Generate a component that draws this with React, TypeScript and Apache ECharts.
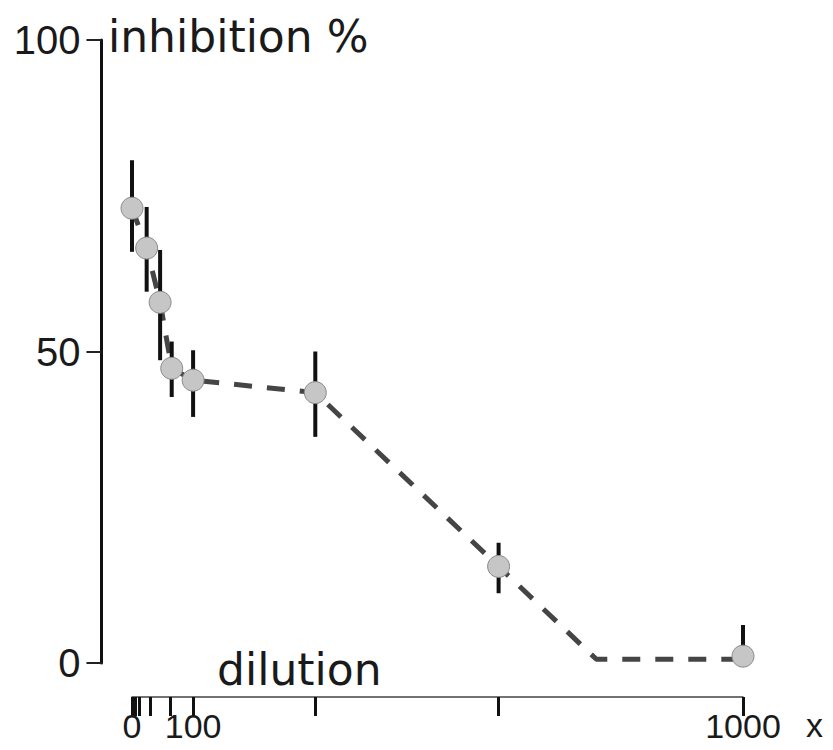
import React, { useEffect, useRef } from "react";
import * as echarts from "echarts";

// dilution values of the measured points
const doseX = [0, 24, 46, 65, 100, 300, 600, 1000];
// mean inhibition %
const meanY = [73.0, 66.6, 57.9, 47.3, 45.4, 43.4, 15.5, 1.1];
// error bar ends
const errLow = [66.0, 59.6, 48.6, 42.7, 39.5, 36.3, 11.2, 0];
const errHigh = [80.7, 73.2, 66.3, 51.6, 50.2, 50.0, 19.3, 6.1];
// dashed connecting line
const lineX = [0, 24, 46, 65, 100, 300, 600, 760, 1000];
const lineY = [73.0, 66.6, 57.9, 47.3, 45.4, 43.4, 15.5, 0.6, 0.6];
// axis ticks
const xTicks = [0, 5, 12, 30, 62, 100, 300, 600, 1000];
const xTickLabels = [0, 100, 1000];
const yTicks = [0, 50, 100];

const WORD_FONT = "'DejaVu Sans', sans-serif";
const NUM_FONT = "'Liberation Sans', Arial, sans-serif";

export default function App() {
  const ref = useRef<HTMLDivElement>(null);

  useEffect(() => {
    if (!ref.current) return;
    const chart = echarts.init(ref.current, null, { renderer: "svg" });

    const points = doseX.map((x, i) => [x, meanY[i]]);
    const bars = doseX.map((x, i) => [x, errLow[i], errHigh[i]]);
    const line = lineX.map((x, i) => [x, lineY[i]]);

    chart.setOption({
      animation: false,
      backgroundColor: "#ffffff",
      grid: [
        { left: 101.45, top: 40, width: 672.1, height: 623 },
        { left: 132, top: 696, width: 611, height: 1 },
      ],
      xAxis: [
        {
          type: "value",
          gridIndex: 0,
          min: -50,
          max: 1050,
          show: false,
        },
        {
          type: "value",
          gridIndex: 1,
          min: 0,
          max: 1000,
          splitLine: { show: false },
          axisLine: { show: true, onZero: false, lineStyle: { color: "#444", width: 1.5 } },
          axisTick: {
            show: true,
            customValues: xTicks,
            length: 19,
            lineStyle: { color: "#111", width: 3 },
          },
          axisLabel: {
            customValues: xTickLabels,
            margin: 12,
            fontFamily: NUM_FONT,
            fontSize: 34,
            color: "#1a1a1a",
            formatter: (v: number) => String(v),
          },
        },
      ],
      yAxis: [
        {
          type: "value",
          gridIndex: 0,
          min: 0,
          max: 100,
          interval: 50,
          splitLine: { show: false },
          axisLine: { show: true, onZero: false, lineStyle: { color: "#111", width: 3 } },
          axisTick: {
            show: true,
            customValues: yTicks,
            length: 15,
            lineStyle: { color: "#222", width: 2 },
          },
          axisLabel: {
            margin: 21,
            fontFamily: NUM_FONT,
            fontSize: 40,
            color: "#1a1a1a",
            formatter: (v: number) => String(v),
          },
        },
        { type: "value", gridIndex: 1, show: false, min: 0, max: 1 },
      ],
      graphic: [
        {
          type: "text",
          left: 108,
          top: 14,
          style: {
            text: "inhibition %",
            fontFamily: WORD_FONT,
            fontSize: 44,
            fill: "#1a1a1a",
          },
        },
        {
          type: "text",
          left: 217,
          top: 647,
          style: {
            text: "dilution",
            fontFamily: WORD_FONT,
            fontSize: 44,
            fill: "#1a1a1a",
          },
        },
        {
          type: "text",
          left: 806,
          top: 708,
          style: {
            text: "x",
            fontFamily: NUM_FONT,
            fontSize: 34,
            fill: "#1a1a1a",
          },
        },
      ],
      series: [
        {
          type: "line",
          xAxisIndex: 0,
          yAxisIndex: 0,
          data: line,
          symbol: "none",
          z: 1,
          lineStyle: { color: "#454545", width: 5, type: [18, 15] },
        },
        {
          type: "custom",
          xAxisIndex: 0,
          yAxisIndex: 0,
          data: bars,
          z: 2,
          clip: true,
          renderItem: (params: any, api: any) => {
            const p1 = api.coord([api.value(0), api.value(1)]);
            const p2 = api.coord([api.value(0), api.value(2)]);
            return {
              type: "line",
              shape: { x1: p1[0], y1: p1[1], x2: p2[0], y2: p2[1] },
              style: { stroke: "#111", lineWidth: 4 },
            };
          },
        },
        {
          type: "scatter",
          xAxisIndex: 0,
          yAxisIndex: 0,
          data: points,
          symbol: "circle",
          symbolSize: 22,
          clip: true,
          z: 3,
          itemStyle: {
            color: "#c6c6c6",
            borderColor: "#8a8a8a",
            borderWidth: 1,
            opacity: 1,
          },
        },
      ],
    });

    return () => chart.dispose();
  }, []);

  return (
    <div
      ref={ref}
      style={{ position: "fixed", left: 0, top: 0, width: 833, height: 750 }}
    />
  );
}
